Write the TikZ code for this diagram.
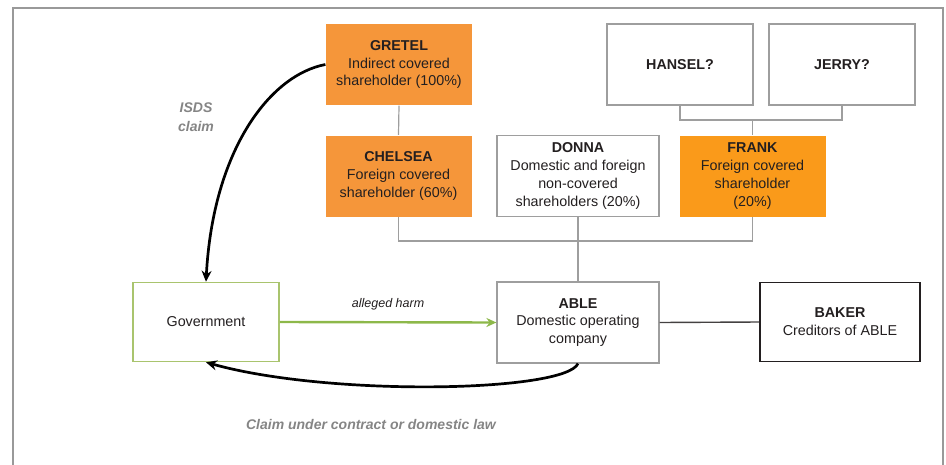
\documentclass[tikz,border=0pt]{standalone}
\usepackage{fontspec}
\setmainfont{Liberation Sans}
\usetikzlibrary{arrows.meta}
\definecolor{orangeA}{HTML}{F5963A}
\definecolor{orangeB}{HTML}{FA9A1A}
\definecolor{govgreen}{HTML}{A9C46E}
\definecolor{harmgreen}{HTML}{8DB84A}
\definecolor{boxgray}{HTML}{9E9E9E}
\definecolor{labelgray}{HTML}{858585}
\definecolor{ink}{HTML}{231F20}
\tikzset{
  entity/.style={draw=boxgray, line width=1.2pt, fill=white, align=center,
    minimum width=146pt, minimum height=81pt, inner sep=2pt,
    text=ink, font=\fontsize{14.3}{17.8}\selectfont},
  covered/.style={entity, draw=none, fill=orangeA},
  coveredB/.style={entity, draw=none, fill=orangeB},
  creditor/.style={entity, draw=ink, line width=1.8pt},
  govbox/.style={entity, draw=govgreen, line width=1.6pt},
  link/.style={draw=boxgray, line width=1.2pt},
  claim/.style={draw=black, line width=2.7pt, -{Stealth[length=11pt,width=10pt]}},
  harm/.style={draw=harmgreen, line width=2.4pt, -{Stealth[length=10pt,width=9pt]}},
  note/.style={text=labelgray, font=\fontsize{14}{18.5}\selectfont\bfseries\itshape, align=center}
}
\begin{document}
\begin{tikzpicture}[x=1pt, y=-1pt]
  \useasboundingbox (0,0) rectangle (946,464);
  % outer frame
  \draw[draw=gray!80, line width=1.3pt] (13,470) -- (13,8) -- (943,8) -- (943,470);

  % shareholders and company
  \node[covered]  (gretel)  at (399,64.5) {\textbf{GRETEL}\\Indirect covered\\shareholder (100\%)};
  \node[covered]  (chelsea) at (398.5,176) {\textbf{CHELSEA}\\Foreign covered\\shareholder (60\%)};
  \node[entity]   (hansel)  at (680,64.5) {\textbf{HANSEL?}};
  \node[entity]   (jerry)   at (842,64.5) {\textbf{JERRY?}};
  \node[entity, minimum width=162pt] (donna) at (578,176) {\textbf{DONNA}\\Domestic and foreign\\non-covered\\shareholders (20\%)};
  \node[coveredB] (frank)   at (752.5,176) {\textbf{FRANK}\\Foreign covered\\shareholder\\(20\%)};
  \node[entity, minimum width=162pt] (able) at (578,322.5) {\textbf{ABLE}\\Domestic operating\\company};
  \node[creditor, minimum width=160pt, minimum height=79pt] (baker) at (840,322) {\textbf{BAKER}\\Creditors of ABLE};
  \node[govbox, minimum height=79pt] (gov) at (206,322) {Government};

  % ownership links
  \coordinate (bus) at (0,241);
  \coordinate (hj) at (0,120);
  \draw[link] (gretel.south) -- (chelsea.north);
  \draw[link] (chelsea.south) |- (frank.south |- bus) -- (frank.south);
  \draw[link] (donna.south) -- (able.north);
  \draw[link] (hansel.south) |- (jerry.south |- hj) -- (jerry.south);
  \draw[link] (frank.north) -- (frank.north |- hj);
  \draw[draw=ink!85, line width=1.4pt] (able.east) -- (baker.west);

  % claims and harm
  \draw[claim] (gretel.west) .. controls (270,75) and (213,150) .. (gov.north);
  \node[note] (isds) at (196,117) {ISDS\\claim};
  \draw[harm] (gov.east) -- node[above=8pt, text=ink, font=\fontsize{12.5}{15}\selectfont\itshape] (harmlabel) {alleged harm} (able.west);
  \coordinate (ablefoot) at (able.south);
  \draw[claim] (ablefoot) .. controls (565,392) and (330,397) .. (gov.south);
  \node[note] (domestic) at (371,424) {Claim under contract or domestic law};
\end{tikzpicture}
\end{document}
